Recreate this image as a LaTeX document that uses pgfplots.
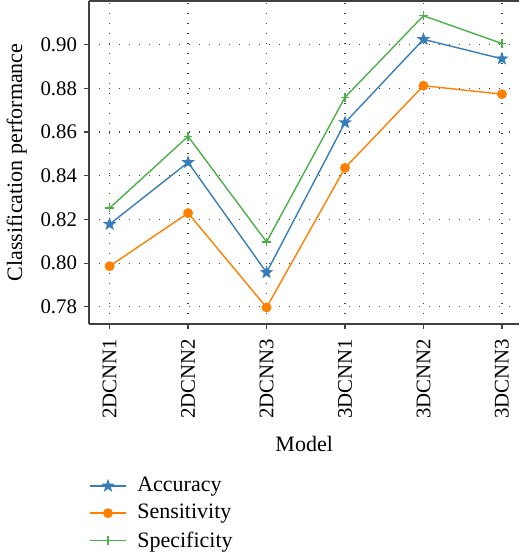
\documentclass[border=0pt]{standalone}
\usepackage{fontspec}
\setmainfont{Liberation Serif}
\usepackage{pgfplots}
\pgfplotsset{compat=1.18}

\definecolor{setblue}{RGB}{55,126,184}
\definecolor{setorange}{RGB}{255,127,0}
\definecolor{setgreen}{RGB}{77,175,74}
\definecolor{framegray}{RGB}{64,64,64}

% filled five-pointed star
\pgfdeclareplotmark{fstar}{%
  \pgfpathmoveto{\pgfpointpolar{90}{1.15\pgfplotmarksize}}%
  \pgfpathlineto{\pgfpointpolar{126}{0.47\pgfplotmarksize}}%
  \pgfpathlineto{\pgfpointpolar{162}{1.15\pgfplotmarksize}}%
  \pgfpathlineto{\pgfpointpolar{198}{0.47\pgfplotmarksize}}%
  \pgfpathlineto{\pgfpointpolar{234}{1.15\pgfplotmarksize}}%
  \pgfpathlineto{\pgfpointpolar{270}{0.47\pgfplotmarksize}}%
  \pgfpathlineto{\pgfpointpolar{306}{1.15\pgfplotmarksize}}%
  \pgfpathlineto{\pgfpointpolar{342}{0.47\pgfplotmarksize}}%
  \pgfpathlineto{\pgfpointpolar{18}{1.15\pgfplotmarksize}}%
  \pgfpathlineto{\pgfpointpolar{54}{0.47\pgfplotmarksize}}%
  \pgfpathclose
  \pgfusepathqfillstroke}

\begin{document}
\begin{tikzpicture}
\begin{axis}[
  scale only axis,
  width=215pt, height=161.5pt,
  xmin=-0.26, xmax=5.22,
  ymin=0.7722, ymax=0.92,
  axis x line=box, axis y line=left,
  axis line style={framegray, line width=0.9pt, -},
  xtick={0,1,2,3,4,5},
  xticklabels={2DCNN1,2DCNN2,2DCNN3,3DCNN1,3DCNN2,3DCNN3},
  xtick pos=bottom,
  ytick={0.78,0.80,0.82,0.84,0.86,0.88,0.90},
  ytick pos=left,
  tick align=outside,
  major tick length=2.6pt,
  tick style={framegray, line width=0.6pt},
  xticklabel style={rotate=90, anchor=east, font=\fontsize{10.4}{12}\selectfont},
  xticklabel shift=1.5pt,
  yticklabel style={font=\fontsize{10.4}{12}\selectfont},
  /pgf/number format/assume math mode=true,
  yticklabel={\pgfmathprintnumber[fixed, fixed zerofill, precision=2]{\tick}},
  grid=major,
  major grid style={black!75, line width=0.6pt, dash pattern=on 0.5pt off 4.5pt},
  xlabel={Model},
  xlabel style={yshift=-2pt},
  ylabel={Classification performance},
  label style={font=\fontsize{11}{13}\selectfont},
  legend style={draw=none, fill=none, at={(0,-0.455)}, anchor=north west,
    font=\fontsize{11}{13}\selectfont, row sep=0.8pt, inner xsep=0pt, inner ysep=1pt,
    /tikz/every odd column/.append style={column sep=3.5pt}},
  legend cell align=left,
  legend image code/.code={%
    \draw[mark repeat=2, mark phase=2] plot coordinates {(0cm,0cm) (0.31cm,0cm) (0.62cm,0cm)};},
  every axis plot/.append style={line width=0.7pt},
]
\addplot[color=setblue, mark=fstar, mark size=2.2pt]
  coordinates {(0,0.8178) (1,0.8461) (2,0.7957) (3,0.8643) (4,0.9024) (5,0.8935)};
\addlegendentry{Accuracy}
\addplot[color=setorange, mark=*, mark size=2.1pt]
  coordinates {(0,0.7986) (1,0.8229) (2,0.7797) (3,0.8436) (4,0.8812) (5,0.8773)};
\addlegendentry{Sensitivity}
\addplot[color=setgreen, mark=+, mark size=2.2pt]
  coordinates {(0,0.8252) (1,0.8580) (2,0.8097) (3,0.8759) (4,0.9132) (5,0.9005)};
\addlegendentry{Specificity}
\end{axis}
\end{tikzpicture}
\end{document}
